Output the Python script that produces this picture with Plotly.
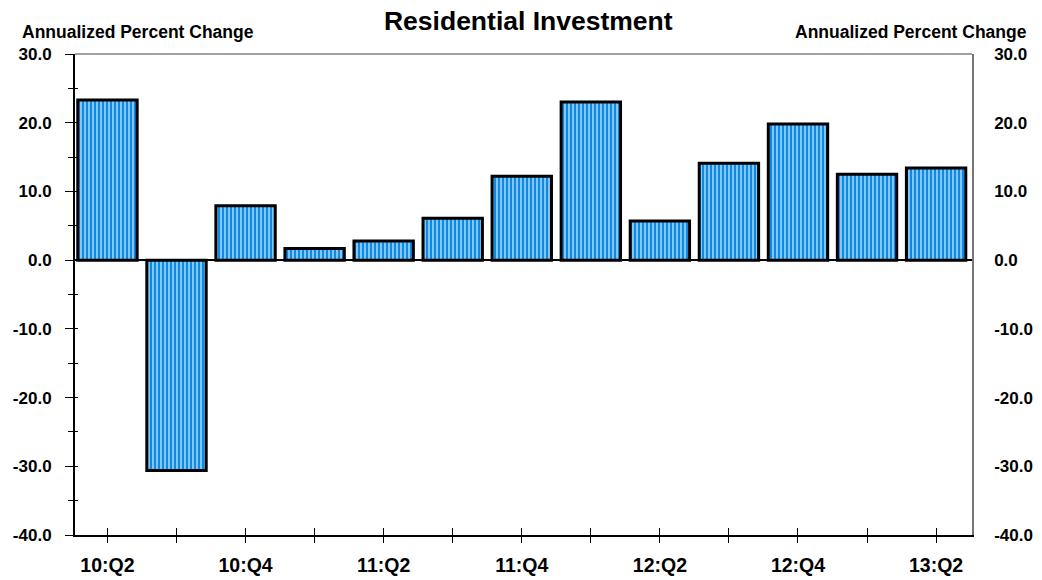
import plotly.graph_objects as go

quarters = ["10:Q2", "10:Q3", "10:Q4", "11:Q1", "11:Q2", "11:Q3", "11:Q4",
            "12:Q1", "12:Q2", "12:Q3", "12:Q4", "13:Q1", "13:Q2"]
values = [23.3, -30.6, 7.9, 1.7, 2.8, 6.1, 12.2, 23.0, 5.7, 14.1, 19.8, 12.5, 13.4]
y_ticks = [30, 20, 10, 0, -10, -20, -30, -40]
y_ticktext = ["30.0", "20.0", "10.0", "0.0", "-10.0", "-20.0", "-30.0", "-40.0"]

FONT = "Arial, Liberation Sans, sans-serif"
BLUE = "#0b8be6"

xpos = list(range(len(quarters)))
xticktext = [f"<b>{q}</b>" if i % 2 == 0 else "" for i, q in enumerate(quarters)]
yticktext_b = [f"<b>{t}</b>" for t in y_ticktext]

fig = go.Figure()
fig.add_trace(go.Bar(
    x=xpos, y=values, width=0.86,
    marker=dict(color=BLUE,
                line=dict(color="black", width=3),
                pattern=dict(shape="|", fgcolor="white", bgcolor=BLUE,
                             size=4, solidity=0.25, fillmode="replace")),
    showlegend=False, hoverinfo="skip"))
fig.add_trace(go.Scatter(x=[xpos[0]], y=[0], yaxis="y2", mode="markers",
                         marker=dict(opacity=0), showlegend=False, hoverinfo="skip"))

xr = [-0.47, 12.52]
yr = [-40, 30]

fig.update_layout(
    width=1042, height=580,
    margin=dict(l=75, r=70, t=54, b=45, autoexpand=False),
    paper_bgcolor="white", plot_bgcolor="white",
    font=dict(family=FONT, color="black"),
    title=dict(text="<b>Residential Investment</b>", x=0.507, xanchor="center",
               y=0.965, yanchor="middle", font=dict(size=26.5, family=FONT)),
    xaxis=dict(range=xr, tickmode="array", tickvals=xpos, ticktext=xticktext,
               ticks="outside", ticklen=6, tickwidth=1, tickcolor="black",
               showline=True, linecolor="black", linewidth=2,
               showgrid=False, zeroline=False, automargin=False,
               tickfont=dict(size=19.5, family=FONT), ticklabelstandoff=6),
    xaxis2=dict(range=xr, overlaying="x", tickmode="array", tickvals=xpos,
                ticktext=[""] * len(xpos), ticks="inside", ticklen=7,
                tickcolor="black", showline=False, showgrid=False,
                zeroline=False, anchor="y", side="bottom", automargin=False),
    yaxis=dict(range=yr, tickmode="array", tickvals=y_ticks, ticktext=yticktext_b,
               ticks="outside", ticklen=8, tickcolor="black", tickwidth=1,
               showline=True, linecolor="black", linewidth=2, automargin=False,
               showgrid=False, zeroline=True, zerolinecolor="black", zerolinewidth=1.5,
               tickfont=dict(size=17, family=FONT), ticklabelstandoff=10,
               minor=dict(dtick=5, tick0=0, ticks="outside", ticklen=5,
                          tickcolor="black")),
    yaxis2=dict(range=yr, overlaying="y", side="right", tickmode="array",
                tickvals=y_ticks, ticktext=yticktext_b, ticks="",
                showline=True, linecolor="#777777", linewidth=1.5,
                showgrid=False, zeroline=False, automargin=False,
                tickfont=dict(size=17, family=FONT), ticklabelstandoff=17),
    yaxis3=dict(range=yr, overlaying="y", side="left", anchor="x",
                tickmode="array", tickvals=[v for v in range(-40, 31, 5)],
                ticktext=[""] * 15, ticks="inside", ticklen=3, tickcolor="black",
                showline=False, showgrid=False, zeroline=False, automargin=False),
    shapes=[dict(type="line", xref="paper", yref="paper", x0=0, x1=1, y0=1, y1=1,
                 line=dict(color="#444444", width=1.2))],
    annotations=[
        dict(text="<b>Annualized Percent Change</b>", xref="paper", yref="paper",
             x=-0.0615, y=1.046, xanchor="left", yanchor="middle", showarrow=False,
             font=dict(size=17.5, family=FONT)),
        dict(text="<b>Annualized Percent Change</b>", xref="paper", yref="paper",
             x=1.0635, y=1.046, xanchor="right", yanchor="middle", showarrow=False,
             font=dict(size=17.5, family=FONT)),
    ],
)
fig.add_trace(go.Scatter(x=[0], y=[0], xaxis="x2", yaxis="y", mode="markers",
                         marker=dict(opacity=0), showlegend=False, hoverinfo="skip"))
fig.add_trace(go.Scatter(x=[0], y=[0], xaxis="x", yaxis="y3", mode="markers",
                         marker=dict(opacity=0), showlegend=False, hoverinfo="skip"))

fig.write_html("out.html")
